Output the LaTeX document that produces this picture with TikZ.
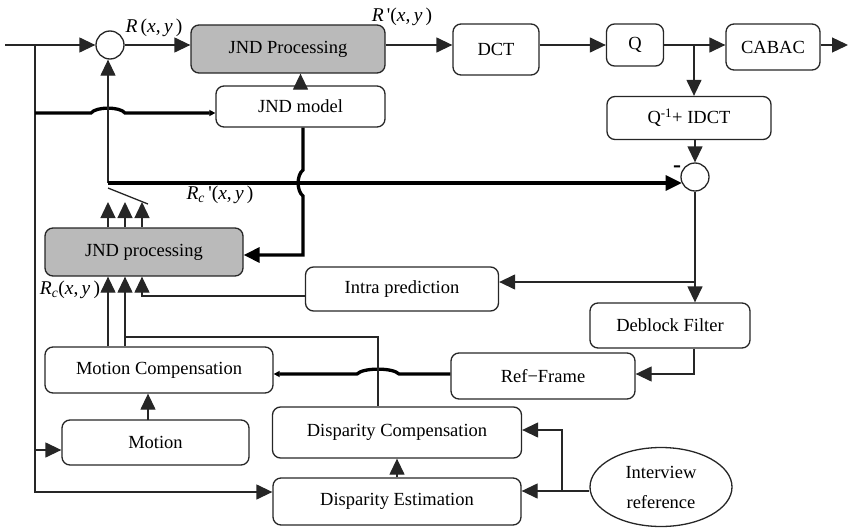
\documentclass[tikz,border=0pt]{standalone}
\usepackage{fontspec}
\setmainfont{Liberation Serif}
\usetikzlibrary{arrows.meta,shapes.geometric}
\begin{document}
\begin{tikzpicture}[x=1pt,y=-1pt,
  every node/.style={font=\fontsize{18.5}{30}\selectfont},
  box/.style={draw=black!85, line width=1.3pt, rounded corners=8pt, inner sep=0pt, align=center},
  gbox/.style={box, fill=black!27},
  ln/.style={draw=black!85, line width=1.3pt},
  thk/.style={draw=black, line width=3.3pt},
  arr/.style={ln, -{Triangle[length=16pt,width=15pt]}},
  tarr/.style={thk, -{Triangle[length=16pt,width=15pt]}},
  sarr/.style={thk, -{Triangle[length=6pt,width=6pt]}},
  cir/.style={circle, draw=black!85, line width=1.3pt, minimum size=28pt, inner sep=0pt},
  lbl/.style={inner sep=0pt, font=\fontsize{19.5}{24}\selectfont}
]
\useasboundingbox (0,0) rectangle (848,527);

% boxes
\node[gbox, minimum width=194pt, minimum height=48pt] (jndp) at (288,49) {JND Processing};
\node[box, minimum width=86pt, minimum height=51pt] (dct) at (496,49.5) {DCT};
\node[box, minimum width=57pt, minimum height=42pt] (q) at (635,45) {Q};
\node[box, minimum width=94pt, minimum height=46pt] (cabac) at (773,47) {CABAC};
\node[box, minimum width=164pt, minimum height=43pt] (qidct) at (689,118) {Q\textsuperscript{-1}+ IDCT};
\node[box, minimum width=169pt, minimum height=41pt] (jndm) at (300.5,106.5) {JND model};
\node[gbox, minimum width=198pt, minimum height=48pt] (jndl) at (144,252) {JND processing};
\node[box, minimum width=193pt, minimum height=44pt] (intra) at (402,289) {Intra prediction};
\node[box, minimum width=160pt, minimum height=45pt] (deb) at (670,325.5) {Deblock Filter};
\node[box, minimum width=184pt, minimum height=46pt] (ref) at (543,376) {Ref−Frame};
\node[box, minimum width=228pt, minimum height=46pt] (mc) at (159,370) {Motion Compensation};
\node[box, minimum width=187pt, minimum height=45pt] (mot) at (155.5,442.5) {Motion};
\node[box, minimum width=249pt, minimum height=51pt] (dc) at (397,432.5) {Disparity Compensation};
\node[box, minimum width=248pt, minimum height=47pt] (de) at (397,501.5) {Disparity Estimation};
\node[ellipse, draw=black!85, line width=1.3pt, minimum width=142pt, minimum height=79pt, inner sep=0pt, align=center] (iv) at (661,487) {Interview\\reference};

% circles
\node[cir] (c1) at (110,45) {};
\node[cir] (c2) at (695,177) {};

% labels
\node[lbl] (lR) at (154,28) {\textit{R}\,(\textit{x},\,\textit{y}\,)};
\node[lbl] (lR1) at (402,17) {\textit{R}\,\textquotesingle(\textit{x},\,\textit{y}\,)};
\node[lbl] (lRc1) at (220,195) {\textit{R}\textsubscript{\textit{c}}\,\textquotesingle(\textit{x},\,\textit{y}\,)};
\node[lbl] (lRc) at (70,290) {\textit{R}\textsubscript{\textit{c}}(\textit{x},\,\textit{y}\,)};
\node[lbl] (minus) at (677,169) {\fontsize{24}{24}\selectfont\bfseries -};

% coordinates
\coordinate (in) at (5,45);
\coordinate (jL) at (35,45);
\coordinate (jB) at (35,492);
\coordinate (jM) at (35,450);
\coordinate (out) at (848,45);
\coordinate (jq) at (694,45);
\coordinate (sw) at (108,183);
\coordinate (s1) at (108,188);
\coordinate (s2) at (148,204);
\coordinate (t1) at (108,202);
\coordinate (t2) at (125,202);
\coordinate (t3) at (142,202);
\coordinate (i3) at (142,296);
\coordinate (a1) at (108,347);
\coordinate (b2) at (125,337);
\coordinate (b3) at (378,337);
\coordinate (jI) at (694,282);
\coordinate (jR) at (694,374);
\coordinate (jE) at (562,491);
\coordinate (jC) at (562,430);
\coordinate (k1) at (303,255);
\coordinate (m1) at (148,420);
\coordinate (h1) at (35,113);

% top chain
\draw[arr] (in) -- (c1.west);
\draw[arr] (c1.east) -- (c1.east -| jndp.west);
\draw[arr] (jndp.east |- c1.center) -- (dct.west |- c1.center);
\draw[arr] (dct.east |- c1.center) -- (q.west |- c1.center);
\draw[arr] (q.east |- c1.center) -- (cabac.west |- c1.center);
\draw[arr] (cabac.east |- c1.center) -- (out);
\draw[arr] (jq) -- (jq |- qidct.north);
\draw[arr] (qidct.south -| c2) -- (c2.north);
\draw[arr] (jndm.north) -- (jndm.north |- jndp.south);

% left bus
\draw[arr] (jL) -- (jB) -- (jB -| de.west);
\draw[arr] (jM) -- (jM -| mot.west);
\draw[sarr] (h1) -- (91,113) .. controls (96,106.5) and (120,106.5) .. (125,113) -- (h1 -| jndm.west);

% switch and feedback
\draw[arr] (sw) -- (sw |- c1.south);
\draw[tarr] (sw) -- (sw -| c2.205);
\draw[ln] (s1) -- (s2);
\draw[arr] (t1 |- jndl.north) -- (t1);
\draw[arr] (t2 |- jndl.north) -- (t2);
\draw[arr] (t3 |- jndl.north) -- (t3);
\draw[tarr] (jndm.south -| k1) -- (303,170) .. controls (296.5,175) and (296.5,191) .. (303,196) -- (k1) -- (k1 -| jndl.east);

% right side
\draw[arr] (c2.south) -- (c2.south |- deb.north);
\draw[arr] (jI) -- (jI -| intra.east);
\draw[arr] (deb.south -| jR) -- (jR) -- (jR -| ref.east);
\draw[sarr] (jR -| ref.west) -- (399,374) .. controls (393,367.5) and (363,367.5) .. (357,374) -- (jR -| mc.east);

% into lower JND processing
\draw[arr] (intra.west |- i3) -- (i3) -- (i3 |- jndl.south);
\draw[arr] (a1 |- mc.north) -- (a1 |- jndl.south);
\draw[arr] (b2 |- mc.north) -- (b2 |- jndl.south);
\draw[ln] (b2) -- (b3) -- (b3 |- dc.north);

% motion / disparity
\draw[arr] (m1) -- (m1 |- mc.south);
\draw[arr] (de.north) -- (dc.south);
\draw[ln] (iv.west |- jE) -- (jE);
\draw[arr] (jE) -- (jE -| de.east);
\draw[arr] (jE) -- (jC) -- (jC -| dc.east);
\end{tikzpicture}
\end{document}
